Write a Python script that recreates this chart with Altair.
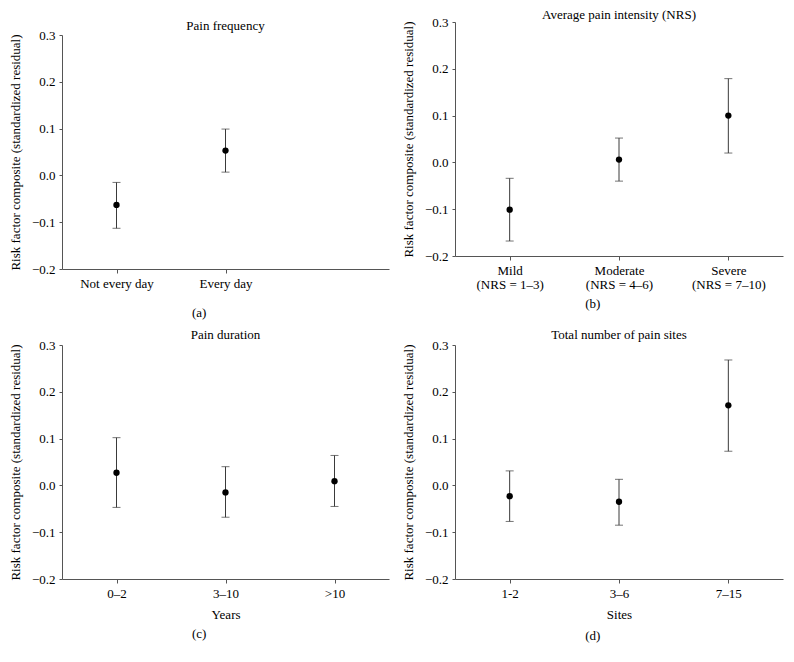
import altair as alt
import pandas as pd

FONT = "Liberation Serif"
YTITLE = "Risk factor composite (standardized residual)"
y_ticks = [-0.2, -0.1, 0.0, 0.1, 0.2, 0.3]

# (a) Pain frequency
a_cats = ["Not every day", "Every day"]
a_mean = [-0.063, 0.053]
a_low = [-0.113, 0.007]
a_high = [-0.015, 0.099]

# (b) Average pain intensity (NRS)
b_cats = ["Mild|(NRS = 1–3)", "Moderate|(NRS = 4–6)", "Severe|(NRS = 7–10)"]
b_mean = [-0.101, 0.006, 0.100]
b_low = [-0.168, -0.040, 0.020]
b_high = [-0.034, 0.052, 0.179]

# (c) Pain duration
c_cats = ["0–2", "3–10", ">10"]
c_mean = [0.027, -0.015, 0.009]
c_low = [-0.047, -0.068, -0.045]
c_high = [0.102, 0.040, 0.064]

# (d) Total number of pain sites
d_cats = ["1-2", "3–6", "7–15"]
d_mean = [-0.023, -0.035, 0.171]
d_low = [-0.077, -0.085, 0.073]
d_high = [0.031, 0.013, 0.268]


def caption(text, offset):
    return alt.Title(text, orient="bottom", anchor="middle", offset=offset, font=FONT,
                     fontSize=13, fontWeight="normal", color="black")


def panel(cats, mean, low, high, title, width, domain=None, xtitle=None,
          t_offset=-8, t_dy=-3):
    df = pd.DataFrame({"cat": cats, "mean": mean, "low": low, "high": high})
    dom = domain if domain is not None else cats
    xaxis_kw = dict(values=cats, labelAngle=0, labelExpr="split(datum.label, '|')",
                    tickSize=4, labelPadding=4, labelLineHeight=14)
    if xtitle:
        xaxis = alt.Axis(title=xtitle, titlePadding=8, **xaxis_kw)
    else:
        xaxis = alt.Axis(title=None, **xaxis_kw)
    x = alt.X("cat:N", scale=alt.Scale(type="point", domain=dom, padding=0.5), axis=xaxis)
    yscale = alt.Scale(domain=[-0.2, 0.3], nice=False, zero=False)
    yaxis = alt.Axis(values=y_ticks, format=".1f", title=YTITLE, tickSize=3,
                     labelPadding=4, titlePadding=9)

    base = alt.Chart(df)
    rule = base.mark_rule(color="#3a3a3a", strokeWidth=1).encode(
        x=x, y=alt.Y("low:Q", scale=yscale, axis=yaxis), y2="high:Q")
    cap_lo = base.mark_tick(color="#3a3a3a", size=8, thickness=1).encode(
        x=x, y=alt.Y("low:Q", scale=yscale, axis=yaxis))
    cap_hi = base.mark_tick(color="#3a3a3a", size=8, thickness=1).encode(
        x=x, y=alt.Y("high:Q", scale=yscale, axis=yaxis))
    pts = base.mark_circle(color="black", size=40, opacity=1).encode(
        x=x, y=alt.Y("mean:Q", scale=yscale, axis=yaxis))
    return alt.layer(rule, cap_lo, cap_hi, pts).properties(
        width=width, height=234,
        title=alt.Title(title, font=FONT, fontSize=13, fontWeight="normal",
                        anchor="middle", offset=t_offset, dy=t_dy, frame="group",
                        color="black"))


pa = panel(a_cats, a_mean, a_low, a_high, "Pain frequency", 327,
           domain=a_cats + [" "], t_offset=-7, t_dy=-3)
pb = panel(b_cats, b_mean, b_low, b_high, "Average pain intensity (NRS)", 328,
           t_offset=-9, t_dy=-3)
pc = panel(c_cats, c_mean, c_low, c_high, "Pain duration", 327, xtitle="Years",
           t_offset=-8, t_dy=-5)
pd_ = panel(d_cats, d_mean, d_low, d_high, "Total number of pain sites", 328,
            xtitle="Sites", t_offset=-8, t_dy=-5)

# invisible 1px spacer that lowers panel (a) relative to panel (b), as in the original
spacer = alt.Chart(pd.DataFrame({"s": [0]})).mark_rule(opacity=0).encode(
    x=alt.value(0), y=alt.value(0)).properties(width=327, height=1)

cell_a = alt.vconcat(spacer, pa, spacing=-5, title=caption("(a)", 16))
cell_b = alt.vconcat(pb, title=caption("(b)", 6))
cell_c = alt.vconcat(pc, title=caption("(c)", 6))
cell_d = alt.vconcat(pd_, title=caption("(d)", 8))

row1 = alt.hconcat(cell_a, cell_b, spacing=11)
row2 = alt.hconcat(cell_c, cell_d, spacing=11)

chart = alt.vconcat(row1, row2, spacing=8).properties(
    padding=0, background="white"
).configure_view(stroke="transparent").configure_axis(
    grid=False, domainColor="#555555", tickColor="#555555",
    labelFont=FONT, labelFontSize=13, labelColor="black",
    titleFont=FONT, titleFontSize=13, titleFontWeight="normal", titleColor="black"
)

chart.save("out.html", embed_options={"renderer": "svg", "actions": False})
